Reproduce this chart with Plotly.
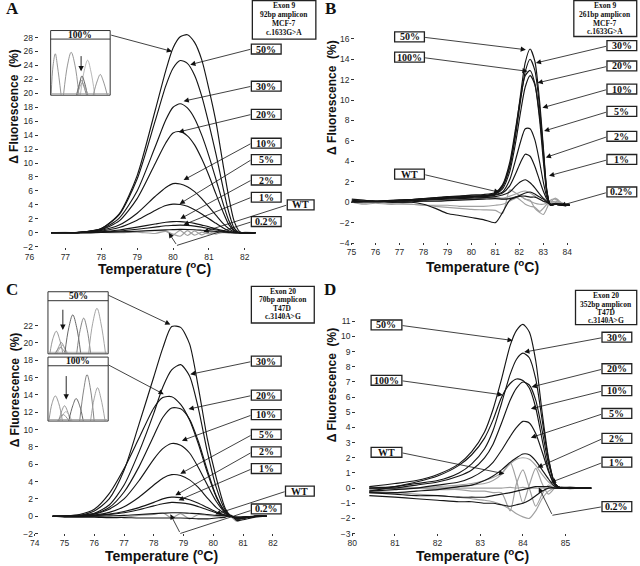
import plotly.graph_objects as go

W, H = 640, 566

# ---------------- Panel A : Exon 9, 92bp amplicon, MCF-7 ----------------
A_T = [76.6, 77.0, 77.5, 78.0, 78.5, 79.0, 79.5, 79.8, 80.0, 80.2, 80.4,
       80.6, 80.8, 81.0, 81.2, 81.4, 81.55, 81.7, 81.85, 82.0, 82.3]
A_100 = [0.0, 0.0, 0.1, 0.6, 2.7, 8.2, 17.5, 23.3, 26.5, 28.1, 28.4, 27.3, 24.8, 20.6, 15.8, 9.6, 5.2, 1.7, 0.2, -0.1, 0.0]
A_50 = [0.0, 0.0, 0.1, 0.6, 2.6, 7.7, 16.0, 21.1, 23.6, 24.7, 24.3, 22.6, 19.6, 15.6, 11.2, 6.3, 3.0, 0.7, 0.0, -0.1, 0.0]
A_30 = [0.0, 0.0, 0.1, 0.5, 2.1, 6.0, 12.3, 16.2, 18.0, 18.5, 17.9, 16.4, 14.0, 11.0, 7.6, 4.1, 1.8, 0.4, 0.0, -0.1, 0.0]
A_20 = [0.0, 0.0, 0.1, 0.45, 1.7, 4.9, 9.9, 12.9, 14.3, 14.5, 13.9, 12.6, 10.6, 8.2, 5.5, 2.9, 1.2, 0.3, 0.0, -0.1, 0.0]
A_10 = [0.0, 0.0, 0.1, 0.35, 1.1, 2.8, 5.2, 6.5, 7.05, 7.0, 6.6, 5.9, 4.9, 3.7, 2.5, 1.3, 0.6, 0.15, 0.0, -0.05, 0.0]
A_5 = [0.0, 0.0, 0.05, 0.25, 0.75, 1.8, 3.2, 3.9, 4.1, 4.05, 3.8, 3.3, 2.7, 2.0, 1.35, 0.7, 0.3, 0.05, 0.0, 0.0, 0.0]
A_2 = [0.0, 0.0, 0.05, 0.15, 0.4, 0.8, 1.25, 1.5, 1.6, 1.6, 1.5, 1.35, 1.1, 0.85, 0.55, 0.3, 0.15, 0.05, 0.0, 0.0, 0.0]
A_1 = [0.0, 0.0, 0.0, 0.1, 0.25, 0.5, 0.8, 1.0, 1.05, 1.1, 1.05, 0.95, 0.8, 0.6, 0.4, 0.2, 0.1, 0.0, 0.0, 0.0, 0.0]
A_02 = [0.0, 0.0, 0.0, 0.05, 0.12, 0.22, 0.35, 0.42, 0.45, 0.48, 0.47, 0.43, 0.36, 0.28, 0.18, 0.1, 0.05, 0.0, 0.0, 0.0, 0.0]
A_WT = [0.0, 0.05, -0.05, 0.05, 0.0, 0.1, -0.1, 0.2, -0.3, 0.35, -0.4, 0.25, -0.3, 0.15, -0.2, 0.1, -0.05, 0.0, -0.1, 0.05, 0.0]
A_WT2 = [0.0, 0.0, 0.05, 0.1, 0.15, 0.2, 0.3, 0.25, -0.2, -0.5, 0.3, -0.35, 0.1, -0.15, 0.05, 0.0, 0.0, -0.1, 0.0, 0.05, 0.0]

# ---------------- Panel B : Exon 9, 261bp amplicon, MCF-7 ----------------
B_T = [75.0, 75.5, 76.0, 76.5, 77.0, 77.5, 78.0, 78.5, 79.0, 79.5, 80.0, 80.5, 81.0, 81.3,
       81.6, 81.85, 82.05, 82.25, 82.45, 82.65, 82.85, 83.0, 83.15, 83.3, 83.5, 83.8, 84.1]
B_50 = [0.1, 0.1, 0.05, 0.1, 0.2, 0.25, 0.35, 0.4, 0.5, 0.55, 0.6, 0.65, 0.9, 1.6, 3.6, 7.0, 10.5, 13.7, 15.0, 13.8, 9.8, 5.5, 1.2, -0.3, -0.2, -0.3, -0.3]
B_30 = [0.05, 0.1, 0.1, 0.1, 0.15, 0.2, 0.3, 0.35, 0.45, 0.5, 0.55, 0.6, 0.85, 1.5, 3.4, 6.6, 9.9, 12.8, 14.0, 12.9, 9.2, 5.2, 1.1, -0.3, -0.2, -0.2, -0.3]
B_100 = [0.1, 0.05, 0.1, 0.15, 0.2, 0.25, 0.35, 0.45, 0.55, 0.6, 0.7, 0.75, 0.95, 1.7, 3.9, 7.3, 10.2, 12.4, 12.9, 11.6, 8.0, 4.1, 0.9, -0.3, -0.2, -0.3, -0.3]
B_20 = [0.0, 0.05, 0.05, 0.1, 0.15, 0.2, 0.25, 0.3, 0.4, 0.45, 0.5, 0.55, 0.8, 1.3, 3.0, 5.9, 8.8, 11.3, 12.4, 11.5, 8.4, 4.8, 1.0, -0.3, -0.2, -0.2, -0.3]
B_10 = [0.1, 0.1, 0.1, 0.15, 0.2, 0.25, 0.3, 0.4, 0.45, 0.5, 0.55, 0.6, 0.75, 1.0, 2.2, 4.2, 5.9, 7.2, 7.2, 6.1, 3.9, 2.0, 0.5, -0.2, -0.2, -0.3, -0.3]
B_5 = [0.05, 0.1, 0.1, 0.1, 0.15, 0.2, 0.3, 0.35, 0.4, 0.45, 0.5, 0.55, 0.7, 0.9, 1.6, 2.8, 3.9, 4.7, 4.5, 3.5, 2.1, 1.1, 0.3, -0.2, -0.2, -0.3, -0.3]
B_2 = [0.0, 0.05, 0.05, 0.1, 0.1, 0.15, 0.2, 0.25, 0.3, 0.35, 0.4, 0.45, 0.55, 0.7, 1.0, 1.6, 2.0, 2.2, 1.9, 1.4, 0.8, 0.4, 0.1, -0.2, -0.2, -0.2, -0.3]
B_1 = [0.2, 0.1, 0.1, 0.0, 0.0, 0.05, 0.1, 0.1, 0.15, 0.2, 0.25, 0.3, 0.35, 0.3, 0.35, 0.5, 0.7, 0.9, 1.0, 0.8, 0.5, 0.3, 0.0, -0.2, -0.1, -0.2, -0.2]
B_02 = [0.0, -0.1, 0.0, -0.05, 0.0, 0.0, 0.1, 0.15, 0.2, 0.25, 0.3, 0.4, 0.5, 0.4, 0.6, 0.8, 1.0, 1.1, 0.9, 0.6, 0.3, 0.1, -0.1, 0.0, 0.1, -0.1, -0.2]
B_WT = [0.3, 0.2, 0.1, 0.1, 0.0, 0.0, -0.2, -0.6, -1.1, -1.3, -1.5, -1.7, -2.0, -1.0, 0.2, 0.5, 0.6, 0.6, 0.5, 0.5, 0.3, 0.1, 0.0, -0.2, -0.2, -0.3, -0.3]
B_G1 = [0.0, 0.0, 0.0, -0.1, -0.1, -0.2, -0.3, -0.4, -0.5, -0.6, -0.7, -0.75, -0.8, -1.1, 1.2, 0.9, 0.6, 0.3, 0.2, -0.6, -1.0, -1.2, -0.6, 0.2, 0.3, -0.2, -0.3]
B_G2 = [0.1, 0.0, 0.1, 0.0, 0.1, 0.2, 0.3, 0.4, 0.5, 0.6, 0.7, 0.6, 0.5, 0.3, 0.4, 0.5, 0.2, -0.2, -0.4, -0.5, -0.9, -0.6, -0.2, 0.0, 0.4, -0.1, -0.2]
B_G3 = [0.0, -0.2, -0.1, -0.2, -0.2, -0.2, -0.3, -0.3, -0.3, -0.4, -0.4, -0.4, -0.3, -0.2, 0.1, 0.4, 0.6, 0.3, 0.1, -0.1, -0.2, -0.2, -0.1, 0.0, 0.0, -0.1, -0.2]

# ---------------- Panel C : Exon 20, 70bp amplicon, T47D ----------------
C_T = [74.6, 75.0, 75.5, 76.0, 76.5, 77.0, 77.5, 78.0, 78.3, 78.6, 78.9,
       79.2, 79.5, 79.8, 80.1, 80.4, 80.6, 80.8, 81.0, 81.4, 81.8]
C_50 = [0.0, 0.0, 0.1, 0.6, 2.0, 5.3, 10.6, 16.1, 19.4, 21.9, 21.8, 19.9, 14.8, 8.9, 4.4, 0.9, 0.0, -0.2, -0.1, 0.0, 0.0]
C_30 = [0.0, 0.0, 0.1, 0.35, 1.3, 3.6, 7.4, 11.9, 14.9, 16.9, 17.5, 16.2, 12.4, 7.4, 3.3, 0.7, 0.0, -0.3, -0.2, 0.0, 0.0]
C_100 = [0.0, 0.05, 0.2, 0.8, 2.6, 5.5, 9.0, 12.5, 13.7, 13.8, 12.9, 11.1, 8.3, 5.0, 2.2, 0.5, 0.0, -0.3, -0.2, 0.0, 0.0]
C_20 = [0.0, 0.0, 0.05, 0.3, 1.0, 2.8, 5.7, 9.3, 11.4, 12.5, 12.4, 11.2, 8.6, 5.3, 2.3, 0.5, 0.0, -0.3, -0.2, 0.0, 0.0]
C_10 = [0.0, 0.0, 0.05, 0.25, 0.8, 2.0, 4.1, 6.6, 7.8, 8.4, 8.2, 7.3, 5.6, 3.6, 1.7, 0.4, 0.0, -0.2, -0.2, 0.0, 0.0]
C_5 = [0.0, 0.0, 0.05, 0.15, 0.45, 1.1, 2.2, 3.6, 4.4, 4.8, 4.7, 4.2, 3.3, 2.1, 1.0, 0.3, 0.0, -0.2, -0.1, 0.0, 0.0]
C_2 = [0.0, 0.0, 0.0, 0.1, 0.25, 0.55, 1.0, 1.6, 2.0, 2.2, 2.15, 1.9, 1.5, 1.0, 0.5, 0.15, 0.0, -0.1, -0.1, 0.0, 0.0]
C_1 = [0.0, 0.0, 0.0, 0.05, 0.2, 0.4, 0.75, 1.2, 1.45, 1.6, 1.55, 1.4, 1.1, 0.75, 0.4, 0.1, 0.0, -0.1, -0.1, 0.0, 0.0]
C_02 = [0.0, 0.0, 0.0, 0.0, 0.05, 0.1, 0.2, 0.3, 0.35, 0.4, 0.4, 0.35, 0.3, 0.2, 0.1, 0.05, 0.0, -0.3, -0.2, 0.0, 0.0]
C_WT = [0.0, 0.0, -0.05, 0.0, -0.1, -0.1, 0.1, 0.2, 0.4, -0.2, 0.3, -0.3, 0.2, 0.1, 0.0, 0.1, -0.1, -0.6, -0.3, 0.0, 0.0]
C_WT2 = [0.0, -0.1, -0.1, -0.1, -0.15, -0.15, -0.2, -0.2, -0.2, -0.2, -0.2, -0.25, -0.3, -0.3, -0.2, -0.1, 0.1, -0.5, -0.4, -0.1, 0.0]

# ---------------- Panel D : Exon 20, 352bp amplicon, T47D ----------------
D_T = [80.4, 81.0, 81.5, 82.0, 82.5, 82.8, 83.1, 83.3, 83.5, 83.7, 83.85,
       84.0, 84.15, 84.3, 84.45, 84.6, 84.75, 84.9, 85.1, 85.3, 85.6]
D_50 = [0.1, 0.3, 0.5, 0.9, 1.6, 2.4, 3.7, 5.2, 7.2, 9.4, 10.4, 10.8, 10.3, 8.4, 5.0, 2.0, 0.3, 0.0, 0.0, 0.0, 0.0]
D_30 = [0.0, 0.1, 0.3, 0.5, 1.0, 1.6, 2.6, 3.8, 5.6, 7.5, 8.5, 8.9, 8.6, 7.2, 4.5, 1.9, 0.3, 0.0, 0.0, 0.0, 0.0]
D_100 = [-0.2, 0.1, 0.4, 0.8, 1.5, 2.2, 3.3, 4.5, 6.0, 6.9, 7.2, 7.1, 6.6, 5.3, 3.2, 1.2, 0.2, 0.0, 0.0, 0.0, 0.0]
D_20 = [0.0, 0.0, 0.2, 0.4, 0.8, 1.2, 2.0, 2.9, 4.3, 5.8, 6.6, 7.0, 6.8, 5.8, 3.8, 1.6, 0.3, 0.0, 0.0, 0.0, 0.0]
D_10 = [-0.2, -0.1, 0.0, 0.2, 0.4, 0.7, 1.2, 1.7, 2.5, 3.4, 4.0, 4.4, 4.3, 3.6, 2.4, 1.1, 0.2, 0.0, 0.0, 0.0, 0.0]
D_5 = [-0.3, -0.3, -0.2, -0.1, 0.1, 0.2, 0.5, 0.8, 1.2, 1.7, 2.0, 2.25, 2.2, 1.8, 1.2, 0.6, 0.1, 0.0, 0.0, 0.0, 0.0]
D_2 = [0.0, 0.0, 0.0, 0.1, 0.2, 0.3, 0.5, 0.7, 1.0, 1.6, 1.9, 2.0, 1.9, 1.5, 0.9, 0.4, 0.1, 0.0, 0.0, 0.0, 0.0]
D_1 = [-0.3, -0.4, -0.5, -0.5, -0.6, -0.6, -0.6, -0.5, -0.4, -0.3, -0.2, -0.1, 0.0, 0.1, 0.1, 0.1, 0.0, 0.0, 0.0, 0.0, 0.0]
D_02 = [-0.5, -0.6, -0.7, -0.8, -0.9, -0.9, -1.0, -1.0, -1.1, -1.2, -1.1, -1.0, -0.8, -0.5, -0.2, 0.0, 0.0, 0.0, 0.0, 0.0, 0.0]
D_WT = [-0.1, 0.0, 0.0, 0.0, 0.1, 0.2, 0.3, 0.5, 0.9, 1.7, 0.5, -1.0, 0.2, 1.3, 0.3, -0.4, 0.0, 0.1, 0.0, 0.0, 0.0]
D_WT2 = [0.0, 0.0, 0.0, -0.1, -0.1, -0.2, -0.2, -0.3, -0.3, -1.5, 0.3, 1.2, 0.0, -1.2, -0.4, 0.2, 0.0, 0.0, 0.0, 0.0, 0.0]
D_G3 = [-0.2, -0.3, -0.4, -0.5, -0.6, -0.7, -0.8, -0.9, -1.1, -1.4, -1.7, -1.9, -2.0, -1.5, -0.7, -0.2, 0.0, 0.0, 0.1, 0.0, 0.0]
D_G4 = [0.1, 0.0, 0.0, 0.0, 0.0, 0.0, 0.0, 0.0, 0.0, 0.05, 0.0, 0.05, 0.0, 0.0, 0.0, 0.0, 0.0, 0.05, -0.05, 0.0, 0.0]

# ---------------- sequencing-trace insets (peak outlines) ----------------
INS_A_PEAKS = [
    ([0.5, 2.5, 4.7, 7.0, 10.5], [0, 30, 41.5, 28, 0]),
    ([13, 17, 20.7, 24.5, 28.5], [0, 30, 43, 30, 0]),
    ([30, 34, 37.3, 40.5, 44.5], [0, 25, 35, 24, 0]),
    ([43, 47, 50, 53, 57], [0, 14, 20.5, 14, 0]),
    ([26.5, 29.5, 31.5, 34, 37], [0, 13, 19, 13, 0]),
    ([26, 29, 31, 33, 36], [0, 10, 15, 10, 0]),
    ([27, 29.5, 32, 34.5, 37.5], [0, 8, 12, 8, 0]),
]
INS_C50_PEAKS = [
    ([2, 5, 8.4, 11.5, 15], [0, 15, 22.4, 15, 0]),
    ([8, 11, 13.5, 16, 19], [0, 7, 11, 7, 0]),
    ([9, 12, 14.5, 17, 20], [0, 5, 8, 5, 0]),
    ([7, 10, 12.5, 15, 18], [0, 4, 6, 4, 0]),
    ([17, 21, 25, 29, 33], [0, 26, 39, 26, 0]),
    ([29, 32.5, 36, 39.5, 43], [0, 24, 35.7, 24, 0]),
    ([41, 45, 49.4, 53.5, 58], [0, 30, 45.7, 30, 0]),
]
INS_C100_PEAKS = [
    ([1, 4, 7.4, 11, 14.5], [0, 17, 25, 17, 0]),
    ([11, 14, 16.7, 19.5, 22.5], [0, 10, 15, 10, 0]),
    ([12, 15, 18, 21, 24], [0, 6, 9, 6, 0]),
    ([10, 13, 15.5, 18, 21], [0, 4, 6, 4, 0]),
    ([21, 25, 28.4, 32, 35.5], [0, 15, 22.3, 15, 0]),
    ([32, 36, 39.4, 43, 46.5], [0, 31, 46.6, 31, 0]),
    ([43, 46.5, 50, 53.5, 57.5], [0, 22, 33.3, 22, 0]),
]

# ---------------- layout helpers ----------------
BLK = '#161616'
GRY = '#a0a0a0'
TICKFONT = dict(family='Liberation Sans, Arial', size=8.5, color='#2a2a2a')

PANELS = {
    'A': dict(xa='x', ya='y', tref=82.0, pxref=241.7, ppd=36.17, v0=234.0, ppu=7.01,
              xr=[76, 82.5], yr=[-2.3, 29.0], xt=list(range(76, 83)), yt=list(range(-2, 29, 2)),
              yax=33, xax=248),
    'B': dict(xa='x2', ya='y2', tref=75.0, pxref=349.3, ppd=24.15, v0=203.3, ppu=10.27,
              xr=[75, 84.5], yr=[-4.3, 16.6], xt=list(range(75, 85)), yt=list(range(-4, 17, 2)),
              yax=352, xax=243),
    'C': dict(xa='x3', ya='y3', tref=74.0, pxref=30.0, ppd=30.0, v0=519.0, ppu=8.71,
              xr=[74, 82.3], yr=[-2.3, 23.0], xt=list(range(74, 83)), yt=list(range(-2, 23, 2)),
              yax=33, xax=536),
    'D': dict(xa='x4', ya='y4', tref=80.0, pxref=350.0, ppd=43.0, v0=490.7, ppu=15.24,
              xr=[80, 85.8], yr=[-3.3, 11.5], xt=list(range(80, 86)), yt=list(range(-3, 12)),
              yax=353, xax=536),
}

SERIES = {
    'A': (A_T, [(A_WT, GRY), (A_WT2, GRY), (A_02, BLK), (A_1, BLK), (A_2, BLK), (A_5, BLK),
                (A_10, BLK), (A_20, BLK), (A_30, BLK), (A_50, BLK), (A_100, BLK)]),
    'B': (B_T, [(B_G1, GRY), (B_G2, GRY), (B_G3, GRY), (B_02, GRY), (B_WT, BLK), (B_1, BLK),
                (B_2, BLK), (B_5, BLK), (B_10, BLK), (B_20, BLK), (B_100, BLK), (B_30, BLK), (B_50, BLK)]),
    'C': (C_T, [(C_WT, GRY), (C_WT2, BLK), (C_02, BLK), (C_1, BLK), (C_2, BLK), (C_5, BLK),
                (C_10, BLK), (C_20, BLK), (C_100, BLK), (C_30, BLK), (C_50, BLK)]),
    'D': (D_T, [(D_G4, GRY), (D_G3, GRY), (D_WT, GRY), (D_WT2, GRY), (D_2, GRY), (D_1, BLK),
                (D_02, BLK), (D_5, BLK), (D_10, BLK), (D_20, BLK), (D_100, BLK), (D_30, BLK), (D_50, BLK)]),
}

fig = go.Figure()
layout = {}

for key, P in PANELS.items():
    T, lst = SERIES[key]
    for vals, col in lst:
        fig.add_trace(go.Scatter(x=T, y=vals, xaxis=P['xa'], yaxis=P['ya'], mode='lines',
                                 line=dict(color=col, width=1.15, shape='spline', smoothing=0.7),
                                 hoverinfo='skip', showlegend=False))
    xname = 'xaxis' + P['xa'][1:]
    yname = 'yaxis' + P['ya'][1:]
    x0 = P['pxref'] + P['ppd'] * (P['xr'][0] - P['tref'])
    x1 = P['pxref'] + P['ppd'] * (P['xr'][1] - P['tref'])
    y0 = P['v0'] - P['ppu'] * P['yr'][0]
    y1 = P['v0'] - P['ppu'] * P['yr'][1]
    layout[xname] = dict(domain=[x0 / W, x1 / W], range=P['xr'], anchor='free', position=1 - P['xax'] / H,
                         tickvals=P['xt'], ticks='outside', ticklen=2, tickcolor='#333', tickwidth=1,
                         showline=False, showgrid=False, zeroline=False, tickfont=TICKFONT, fixedrange=True)
    layout[yname] = dict(domain=[1 - y0 / H, 1 - y1 / H], range=P['yr'], anchor='free', position=P['yax'] / W,
                         tickvals=P['yt'], ticks='outside', ticklen=3, tickcolor='#333', tickwidth=1,
                         showline=False, showgrid=False, zeroline=False, tickfont=TICKFONT, fixedrange=True)

# insets (sequencing traces)
INSETS = [
    ('5', (46, 30.7, 106, 95.7), 39.3, INS_A_PEAKS, '100%', (76.7, 55, 71.7)),
    ('6', (43.3, 293.3, 104, 355.7), 302.3, INS_C50_PEAKS, '50%', (58.3, 310, 331.7)),
    ('7', (43.3, 359, 104, 423.3), 367.7, INS_C100_PEAKS, '100%', (61.7, 376.7, 401.7)),
]
shapes = []
ann = []
INS_COLS = ['#8a8a8a', '#8a8a8a', '#b0b0b0', '#8a8a8a', '#555', '#777', '#9a9a9a']
for suf, (bx0, by0, bx1, by1), hy, peaks, htxt, arr in INSETS:
    w_loc = bx1 - bx0
    h_loc = by1 - hy
    for i, (px_, py_) in enumerate(peaks):
        fig.add_trace(go.Scatter(x=px_, y=py_, xaxis='x' + suf, yaxis='y' + suf, mode='lines',
                                 line=dict(color=INS_COLS[i % len(INS_COLS)], width=0.9, shape='spline', smoothing=1.0),
                                 hoverinfo='skip', showlegend=False))
    layout['xaxis' + suf] = dict(domain=[bx0 / W, bx1 / W], range=[0, w_loc], visible=False, anchor='y' + suf, fixedrange=True)
    layout['yaxis' + suf] = dict(domain=[1 - by1 / H, 1 - hy / H], range=[-0.5, h_loc], visible=False, anchor='x' + suf, fixedrange=True)
    shapes.append(dict(type='rect', xref='paper', yref='paper', x0=bx0 / W, x1=bx1 / W, y0=1 - by1 / H, y1=1 - by0 / H,
                       line=dict(color='#333', width=1)))
    shapes.append(dict(type='line', xref='paper', yref='paper', x0=bx0 / W, x1=bx1 / W, y0=1 - hy / H, y1=1 - hy / H,
                       line=dict(color='#333', width=1)))
    shapes.append(dict(type='line', xref='paper', yref='paper', x0=(bx0 + 1) / W, x1=(bx1 - 1) / W,
                       y0=1 - (by1 - 1.5) / H, y1=1 - (by1 - 1.5) / H, line=dict(color='#999', width=0.8)))
    ann.append(dict(x=(bx0 + bx1) / 2 / W, y=1 - (by0 + hy) / 2 / H, xref='paper', yref='paper', showarrow=False,
                    text='<b>%s</b>' % htxt, font=dict(family='Liberation Serif', size=9.5, color='#111'),
                    xanchor='center', yanchor='middle'))
    ann.append(dict(x=arr[0] / W, y=1 - arr[2] / H, xref='paper', yref='paper', ax=0, ay=arr[1] - arr[2],
                    axref='pixel', ayref='pixel', text='', showarrow=True, arrowhead=2, arrowsize=1.2,
                    arrowwidth=0.9, arrowcolor='#111', standoff=0))


def arrow(tail, head, head_on=True):
    ann.append(dict(x=head[0] / W, y=1 - head[1] / H, xref='paper', yref='paper',
                    ax=tail[0] - head[0], ay=tail[1] - head[1], axref='pixel', ayref='pixel',
                    text='', showarrow=True, arrowhead=2 if head_on else 0, arrowsize=1.3,
                    arrowwidth=0.8, arrowcolor='#111', standoff=0))


def box(cx, cy, text, w=30, h=10, size=10):
    shapes.append(dict(type='rect', xref='paper', yref='paper', x0=(cx - w / 2) / W, x1=(cx + w / 2) / W,
                       y0=1 - (cy + h / 2) / H, y1=1 - (cy - h / 2) / H,
                       line=dict(color='#222', width=1.3), fillcolor='white'))
    ann.append(dict(x=cx / W, y=1 - cy / H, xref='paper', yref='paper', text='<b>%s</b>' % text, showarrow=False,
                    font=dict(family='Liberation Serif', size=size, color='#111'), xanchor='center', yanchor='middle'))


def info(x0, y0, x1, y1, lines, ys):
    shapes.append(dict(type='rect', xref='paper', yref='paper', x0=x0 / W, x1=x1 / W, y0=1 - y1 / H, y1=1 - y0 / H,
                       line=dict(color='#222', width=1.3), fillcolor='white'))
    for t, yy in zip(lines, ys):
        ann.append(dict(x=(x0 + x1) / 2 / W, y=1 - yy / H, xref='paper', yref='paper', text='<b>%s</b>' % t,
                        showarrow=False, font=dict(family='Liberation Serif', size=7.5, color='#111'),
                        xanchor='center', yanchor='middle'))


# ---- Panel A labels
arrow((106, 35), (168.3, 51.7))
for txt, cy, head in [('50%', 49.3, (186.7, 65)), ('30%', 86.7, (180, 101.7)), ('20%', 115, (175, 132.7)),
                      ('10%', 144, (180, 181)), ('5%', 160.5, (176, 205)), ('2%', 181, (176.7, 220)),
                      ('1%', 198.3, (180, 226))]:
    arrow((248.3, cy), head)
    box(263.3, cy, txt)
arrow((284.3, 206), (200, 233))
box(298, 206, 'WT', w=27)
arrow((248.3, 223), (173.3, 246.7), head_on=False)
arrow((173.3, 246.7), (165, 234))
box(263.3, 222.7, '0.2%')
info(249.3, 0.5, 313.3, 39.3, ['Exon 9', '92bp amplicon', 'MCF-7', 'c.1633G&gt;A'], [5.5, 14.5, 23.5, 32.3])

# ---- Panel B labels
for txt, cy, head in [('50%', 37, (525, 50)), ('100%', 57.5, (526.7, 71.7)), ('WT', 175, (498.3, 193.3))]:
    arrow((422.7, cy + 0.5), head)
    box(407.7, cy, txt)
for txt, cy, head in [('30%', 45.8, (535, 63.3)), ('20%', 66.3, (536.7, 83.3)), ('10%', 89.5, (541.7, 108.3)),
                      ('5%', 112, (543.3, 131.7)), ('2%', 137, (545, 158.3)), ('1%', 160.3, (548.3, 176.7)),
                      ('0.2%', 193, (560, 206.7))]:
    arrow((606.7, cy + 0.5), head)
    box(621.7, cy, txt)
info(573.3, 0.5, 636.7, 36.7, ['Exon 9', '261bp amplicon', 'MCF-7', 'c.1633G&gt;A'], [5.5, 14.3, 23.3, 31.7])

# ---- Panel C labels
arrow((103.3, 296.3), (166.7, 326.3))
arrow((103.3, 366.3), (160, 396.3))
for txt, cy, head in [('30%', 363, (186.7, 376.3)), ('20%', 397.2, (185, 411.3)), ('10%', 416.8, (178.3, 443)),
                      ('5%', 436.8, (176.7, 476.3)), ('2%', 454.3, (171.7, 498)), ('1%', 471, (175, 503))]:
    arrow((248.3, cy + 0.5), head)
    box(263.3, cy, txt)
arrow((282.7, 494), (212, 517))
box(297.2, 493.7, 'WT', w=29)
arrow((248.3, 513), (176.7, 536.3), head_on=False)
arrow((176.7, 536.3), (166.7, 517))
box(263.3, 511.7, '0.2%')
info(248.3, 288, 311.7, 324.7, ['Exon 20', '70bp amplicon', 'T47D', 'c.3140A&gt;G'], [292.8, 301.5, 310, 318.5])

# ---- Panel D labels
for txt, cy, head in [('50%', 326.7, (511.7, 342.3)), ('100%', 382.3, (501.7, 397)), ('WT', 454.7, (503.3, 476.3))]:
    arrow((400, cy + 0.5), head)
    box(384.5, cy, txt, w=31)
for txt, cy, head in [('30%', 339, (523.3, 354)), ('20%', 370.7, (530.7, 389)), ('10%', 392.7, (530, 411)),
                      ('5%', 415.7, (530, 440)), ('2%', 440.7, (536.7, 470)), ('1%', 464.7, (550, 485))]:
    arrow((601.7, cy + 0.5), head)
    box(616.7, cy, txt)
arrow((601.7, 509.5), (551.7, 518), head_on=False)
arrow((551.7, 518), (538, 490))
box(616.7, 509.3, '0.2%')
info(575, 292, 636.7, 326.3, ['Exon 20', '352bp amplicon', 'T47D', 'c.3140A&gt;G'], [297.5, 305.8, 314.2, 322])

# ---- panel letters and axis titles
for L, cx, cy in [('A', 7.5, 8.5), ('B', 328, 8.5), ('C', 7.5, 291.5), ('D', 328, 291.5)]:
    ann.append(dict(x=cx / W, y=1 - cy / H, xref='paper', yref='paper', text='<b>%s</b>' % L, showarrow=False,
                    font=dict(family='Liberation Serif', size=17, color='#111'), xanchor='center', yanchor='middle'))
XT = '<b>Temperature (<sup>o</sup>C)</b>'
YT = '<b>\u0394 Fluorescence\u00a0 (%)</b>'
for cx, cy in [(150.7, 269), (481.7, 267.5), (157.5, 558), (470.8, 557.5)]:
    ann.append(dict(x=cx / W, y=1 - cy / H, xref='paper', yref='paper', text=XT, showarrow=False,
                    font=dict(family='Liberation Sans, Arial', size=14, color='#111'), xanchor='center', yanchor='middle'))
for cx, cy in [(9.5, 107), (330, 98), (9.5, 392), (330, 387)]:
    ann.append(dict(x=cx / W, y=1 - cy / H, xref='paper', yref='paper', text=YT, showarrow=False, textangle=-90,
                    font=dict(family='Liberation Sans, Arial', size=12, color='#111'), xanchor='center', yanchor='middle'))

fig.update_layout(width=W, height=H, autosize=False, margin=dict(l=0, r=0, t=0, b=0),
                  paper_bgcolor='white', plot_bgcolor='white', showlegend=False,
                  shapes=shapes, annotations=ann, **layout)

fig.write_html('out.html', config={'displayModeBar': False},
               post_script="document.body.style.margin='0';document.body.style.padding='0';"
                           "document.body.style.overflow='hidden';")
